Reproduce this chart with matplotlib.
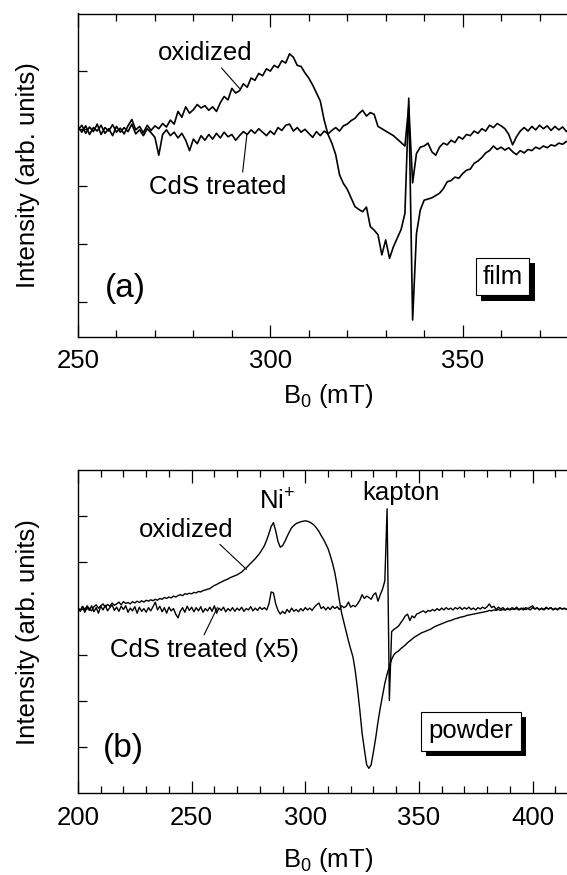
import numpy as np
import matplotlib
matplotlib.use("Agg")
import matplotlib.pyplot as plt
import matplotlib.patheffects as pe
from matplotlib.ticker import MultipleLocator

plt.rcParams['font.family'] = ['Liberation Sans', 'DejaVu Sans']
plt.rcParams['mathtext.fontset'] = 'custom'
plt.rcParams['mathtext.rm'] = 'Liberation Sans'

# ---- panel (a): film, field 250..380 mT in 1 mT steps ----
field_a = np.arange(250, 381, 1.0)
oxidized_a = [
    -0.02, 0.06, -0.08, 0.03, -0.05, 0.08, -0.10, 0.02, -0.04, 0.07,
    -0.06, 0.01, -0.09, 0.05, 0.16, -0.02, 0.04, -0.07, 0.06, -0.03,
    0.05, 0.00, 0.09, 0.03, 0.15, 0.08, 0.30, 0.20, 0.38, 0.27,
    0.33, 0.42, 0.36, 0.40, 0.32, 0.38, 0.30, 0.45, 0.56, 0.50,
    0.70, 0.62, 0.66, 0.78, 0.72, 0.88, 0.84, 0.96, 0.92, 1.04,
    1.00, 1.10, 1.06, 1.18, 1.14, 1.30, 1.24, 1.10, 1.08, 0.97,
    0.88, 0.76, 0.62, 0.48, 0.15, -0.10, -0.25, -0.45, -0.80, -0.95,
    -1.05, -1.20, -1.35, -1.40, -1.44, -1.36, -1.70, -1.76, -1.84, -2.19,
    -1.93, -2.25, -2.05, -1.90, -1.75, -1.47, 0.53, -3.32, -1.82, -1.41,
    -1.24, -1.22, -1.20, -1.16, -1.12, -1.04, -0.92, -0.90, -0.84, -0.86,
    -0.78, -0.72, -0.70, -0.60, -0.56, -0.50, -0.42, -0.38, -0.30, -0.36,
    -0.32, -0.37, -0.33, -0.40, -0.45, -0.38, -0.42, -0.36, -0.38, -0.32,
    -0.35, -0.30, -0.33, -0.28, -0.30, -0.25, -0.27, -0.22, -0.24, -0.20,
    -0.22,
]
cds_a = [
    0.03, -0.06, 0.05, -0.10, 0.02, -0.04, 0.06, -0.08, 0.00, -0.12,
    0.04, -0.06, 0.02, -0.05, 0.08, -0.09, -0.02, -0.12, 0.00, -0.07,
    -0.15, -0.46, -0.10, -0.02, -0.12, -0.06, -0.16, -0.08, -0.20, -0.38,
    -0.18, -0.26, -0.12, -0.20, -0.10, -0.18, -0.08, -0.16, -0.06, -0.14,
    -0.10, -0.20, -0.12, -0.05, -0.10, -0.02, -0.08, 0.00, -0.06, -0.12,
    -0.04, -0.10, 0.02, -0.03, 0.06, 0.08, -0.04, 0.02, -0.06, -0.01,
    -0.08, -0.15, -0.05, -0.12, -0.04, -0.09, -0.03, 0.02, -0.04, 0.05,
    0.08, 0.14, 0.18, 0.26, 0.32, 0.22, 0.28, 0.25, 0.04, 0.00,
    -0.04, -0.08, -0.12, -0.18, -0.24, -0.30, 0.40, -0.94, -0.43, -0.32,
    -0.30, -0.25, -0.40, -0.46, -0.32, -0.25, -0.28, -0.20, -0.24, -0.14,
    -0.18, -0.10, -0.12, -0.04, -0.08, 0.00, -0.04, 0.06, 0.02, 0.09,
    0.05, 0.00, -0.10, -0.28, -0.14, -0.04, 0.02, -0.04, 0.04, -0.02,
    0.06, 0.00, 0.05, -0.03, 0.04, -0.02, 0.03, -0.05, 0.02, -0.03,
    0.00,
]

# ---- panel (b): powder, field 200..420 mT in 1 mT steps ----
field_b = np.arange(200, 421, 1.0)
oxidized_b = [
    0.02, -0.04, 0.05, -0.02, 0.06, 0.00, -0.05, 0.04, 0.08, 0.01,
    0.06, 0.10, 0.03, 0.09, 0.05, 0.12, 0.07, 0.10, 0.14, 0.08,
    0.15, 0.11, 0.13, 0.10, 0.15, 0.12, 0.16, 0.13, 0.17, 0.14,
    0.18, 0.16, 0.19, 0.17, 0.20, 0.18, 0.22, 0.20, 0.24, 0.22,
    0.25, 0.23, 0.27, 0.25, 0.28, 0.30, 0.28, 0.32, 0.31, 0.33,
    0.32, 0.35, 0.34, 0.37, 0.36, 0.39, 0.40, 0.42, 0.43, 0.47,
    0.50, 0.52, 0.55, 0.57, 0.60, 0.62, 0.64, 0.67, 0.69, 0.71,
    0.73, 0.76, 0.79, 0.84, 0.88, 0.93, 0.98, 1.03, 1.08, 1.14,
    1.20, 1.28, 1.36, 1.48, 1.62, 1.78, 1.86, 1.68, 1.45, 1.33,
    1.36, 1.45, 1.56, 1.66, 1.75, 1.80, 1.84, 1.86, 1.88, 1.89,
    1.90, 1.89, 1.87, 1.84, 1.80, 1.74, 1.67, 1.58, 1.50, 1.40,
    1.30, 1.15, 0.98, 0.78, 0.50, 0.18, -0.10, -0.30, -0.50, -0.70,
    -0.88, -1.05, -1.35, -1.75, -2.20, -2.70, -3.05, -3.38, -3.46, -3.38,
    -3.10, -2.80, -2.45, -2.15, -1.88, -1.62, -1.42, -1.25, -1.10, -1.00,
    -0.95, -0.92, -0.87, -0.83, -0.79, -0.74, -0.70, -0.66, -0.62, -0.59,
    -0.56, -0.53, -0.51, -0.49, -0.47, -0.45, -0.42, -0.39, -0.37, -0.35,
    -0.33, -0.31, -0.29, -0.27, -0.26, -0.24, -0.22, -0.21, -0.19, -0.18,
    -0.17, -0.15, -0.14, -0.13, -0.12, -0.11, -0.10, -0.09, -0.08, -0.07,
    -0.06, -0.04, -0.05, -0.03, -0.04, -0.02, -0.04, -0.02, -0.03, -0.01,
    -0.03, -0.01, -0.02, 0.00, -0.03, -0.01, 0.01, -0.02, 0.00, -0.03,
    0.02, -0.01, 0.01, -0.02, 0.00, -0.03, 0.01, -0.01, 0.02, -0.02,
    0.00, -0.03, 0.01, -0.01, 0.00, -0.02, 0.01, -0.01, 0.00, -0.02,
    0.00,
]
cds_b = [
    0.00, -0.06, 0.04, -0.08, 0.03, -0.04, 0.06, -0.07, 0.02, -0.10,
    0.05, -0.03, 0.07, -0.05, 0.02, 0.08, -0.04, 0.03, -0.06, 0.05,
    -0.02, 0.06, -0.08, 0.01, -0.05, 0.04, -0.10, 0.03, -0.06, 0.00,
    -0.08, 0.02, -0.05, 0.04, 0.14, -0.03, 0.05, -0.07, 0.02, -0.10,
    0.03, -0.05, 0.00, -0.12, -0.20, -0.06, 0.02, -0.08, 0.05, -0.04,
    0.03, -0.07, 0.02, -0.05, 0.04, -0.08, 0.00, -0.05, 0.03, -0.06,
    0.06, -0.10, 0.01, -0.04, 0.03, -0.07, 0.00, -0.05, 0.02, -0.06,
    0.01, -0.04, 0.03, -0.06, 0.00, -0.03, 0.04, -0.05, 0.01, -0.04,
    0.03, -0.02, 0.02, -0.03, 0.10, 0.36, 0.34, 0.10, -0.04, -0.12,
    -0.06, -0.11, -0.02, -0.08, 0.01, -0.06, -0.02, -0.07, 0.00, -0.05,
    0.02, -0.03, 0.01, -0.04, 0.03, 0.08, 0.12, 0.00, 0.04, -0.03,
    0.03, -0.02, 0.05, 0.00, 0.04, -0.02, 0.06, 0.02, 0.05, 0.14,
    0.03, 0.07, 0.04, 0.10, 0.18, 0.30, 0.22, 0.27, 0.24, 0.20,
    0.30, 0.34, 0.16, 0.30, 0.42, 0.60, 2.16, -1.99, -0.50, -0.45,
    -0.42, -0.38, -0.31, -0.24, -0.16, -0.12, -0.26, -0.16, -0.20, -0.12,
    -0.10, -0.07, -0.05, -0.09, -0.04, -0.06, -0.02, -0.05, 0.00, -0.04,
    0.01, -0.03, 0.02, -0.02, 0.01, -0.03, 0.02, -0.01, 0.03, -0.02,
    0.02, -0.01, 0.03, -0.02, 0.01, -0.03, 0.02, -0.01, 0.03, 0.00,
    0.04, 0.10, 0.02, 0.05, -0.02, 0.03, -0.01, 0.02, -0.03, 0.01,
    -0.02, 0.02, -0.01, 0.03, -0.02, 0.01, -0.03, 0.02, 0.00, 0.03,
    0.06, -0.01, 0.02, -0.03, 0.01, -0.02, 0.03, -0.01, 0.02, -0.03,
    0.01, -0.02, 0.02, -0.01, 0.01, -0.02, 0.01, -0.01, 0.02, -0.01,
    0.00,
]

fs = 18.5
W, H = 567, 875
fig = plt.figure(figsize=(W / 100, H / 100), dpi=100)
# axes run slightly past the right edge, like the cropped original
ax_a = fig.add_axes([78 / W, 538.3 / H, 500 / W, 323.2 / H])
ax_b = fig.add_axes([78 / W, 81.7 / H, 500 / W, 323.3 / H])


def style_axes(ax, xlim, ylim, yticks, xpad):
    ax.set_xlim(*xlim)
    ax.set_ylim(*ylim)
    ax.xaxis.set_major_locator(MultipleLocator(50))
    ax.xaxis.set_minor_locator(MultipleLocator(10))
    ax.set_yticks(yticks)
    ax.set_yticklabels([])
    ax.tick_params(axis='x', which='both', direction='in', top=True,
                   bottom=True, labelsize=fs, pad=9, width=0.9)
    ax.tick_params(axis='x', which='major', length=9)
    ax.tick_params(axis='x', which='minor', length=5)
    ax.tick_params(axis='y', which='major', direction='in', left=True,
                   right=False, length=6.7, width=0.9)
    for s in ax.spines.values():
        s.set_linewidth(1.0)
    ax.set_ylabel('Intensity (arb. units)', fontsize=fs)
    ax.yaxis.set_label_coords(-0.076, 0.5)
    ax.set_xlabel(r'B$_\mathregular{0}$ (mT)', fontsize=fs, labelpad=xpad)


def shadow_box(ax, txt, x, y, pad):
    t = ax.text(x, y, txt, fontsize=fs, ha='center', va='center',
                bbox=dict(boxstyle='square,pad=%.2f' % pad, fc='white', ec='black', lw=0.8))
    t.get_bbox_patch().set_path_effects(
        [pe.withSimplePatchShadow(offset=(3.8, -3.8), shadow_rgbFace='black', alpha=1.0)])


# panel (a)
ax_a.plot(field_a, oxidized_a, color='black', lw=1.2)
ax_a.plot(field_a, cds_a, color='black', lw=1.2)
style_axes(ax_a, (250, 380), (-3.61, 2.0), [-3, -2, -1, 0, 1], 6)
ax_a.annotate('oxidized', xy=(292, 0.70), xytext=(283, 1.31), fontsize=fs,
              ha='center', va='center',
              arrowprops=dict(arrowstyle='-', lw=0.8, color='black',
                              relpos=(0.65, 0.0), shrinkA=0, shrinkB=0))
ax_a.annotate('CdS treated', xy=(293.9, -0.11), xytext=(286.3, -1.01), fontsize=fs,
              ha='center', va='center',
              arrowprops=dict(arrowstyle='-', lw=0.8, color='black',
                              relpos=(0.68, 1.0), shrinkA=0, shrinkB=0))
ax_a.text(262.2, -2.77, '(a)', fontsize=24, ha='center', va='center')
shadow_box(ax_a, 'film', 360.4, -2.57, 0.26)

# panel (b)
ax_b.plot(field_b, oxidized_b, color='black', lw=1.0)
ax_b.plot(field_b, cds_b, color='black', lw=1.0)
style_axes(ax_b, (200, 420), (-4.0, 3.0), [-3, -2, -1, 0, 1, 2], 11.5)
ax_b.annotate('oxidized', xy=(274.1, 0.85), xytext=(247.8, 1.71), fontsize=fs,
              ha='center', va='center',
              arrowprops=dict(arrowstyle='-', lw=0.8, color='black',
                              relpos=(0.82, 0.0), shrinkA=0, shrinkB=0))
ax_b.annotate('CdS treated (x5)', xy=(261.3, 0.02), xytext=(255.7, -0.89), fontsize=fs,
              ha='center', va='center',
              arrowprops=dict(arrowstyle='-', lw=0.8, color='black',
                              relpos=(0.49, 1.0), shrinkA=0, shrinkB=0))
ax_b.text(287.5, 2.33, r'Ni$^\mathregular{+}$', fontsize=fs, ha='center', va='center')
ax_b.text(342.3, 2.51, 'kapton', fontsize=fs, ha='center', va='center')
ax_b.text(219.9, -3.02, '(b)', fontsize=24, ha='center', va='center')
shadow_box(ax_b, 'powder', 372.9, -2.66, 0.3)

fig.savefig('out.png', dpi=100)
